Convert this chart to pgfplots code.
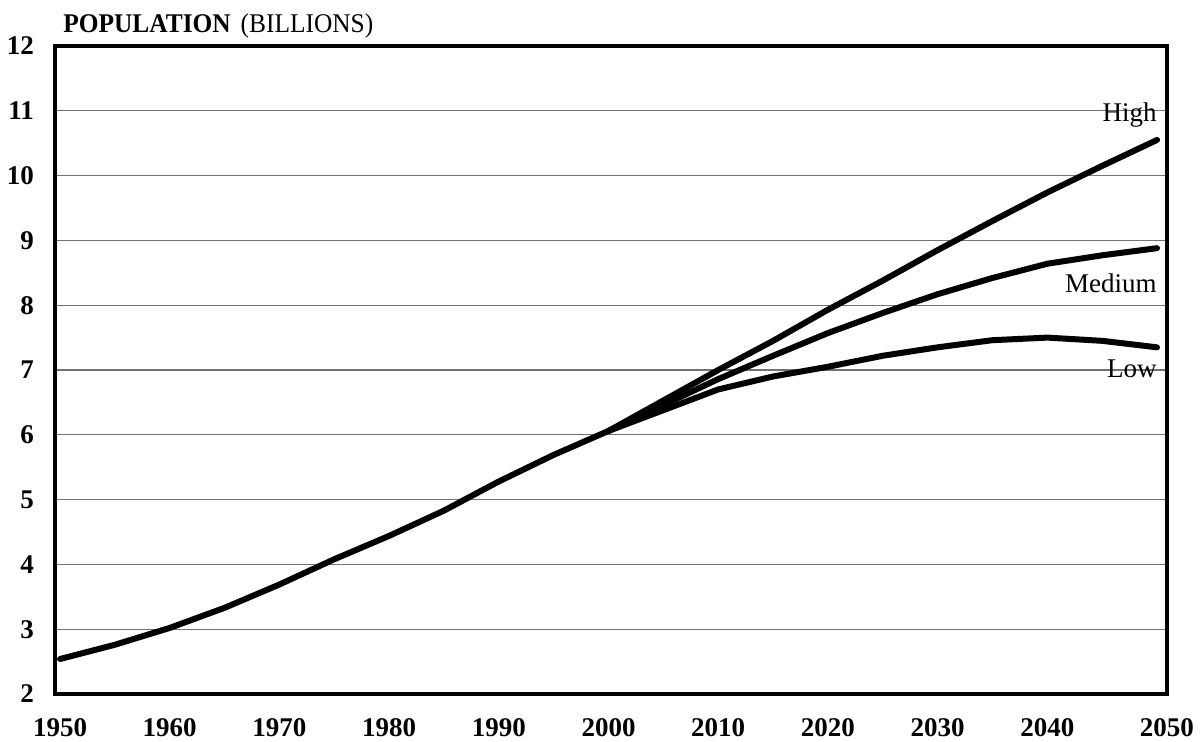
\documentclass[border=0pt]{standalone}
\usepackage{fontspec}
\setmainfont{Liberation Serif}
\newfontfamily\titlefont[FakeStretch=0.94]{Liberation Serif}
\usepackage{pgfplots}
\pgfplotsset{compat=1.18}
\begin{document}
\begin{tikzpicture}
\path[use as bounding box] (-27.5pt,-23.5pt) rectangle (573pt,347pt);
\begin{axis}[
  scale only axis,
  width=556pt, height=324pt,
  xmin=1949.54, xmax=2050.91,
  ymin=2, ymax=12,
  xtick={1950,1960,1970,1980,1990,2000,2010,2020,2030,2040,2050.9},
  xticklabels={1950,1960,1970,1980,1990,2000,2010,2020,2030,2040,2050},
  ytick={2,3,...,12},
  major tick length=0pt,
  axis line style={line width=1.7pt},
  ymajorgrids,
  grid style={black!55, line width=0.6pt},
  /pgf/number format/assume math mode=true,
  tick label style={font=\fontsize{13.5}{14}\selectfont\bfseries},
  yticklabel style={xshift=-7pt},
  xticklabel style={yshift=-11pt, inner sep=1pt},
  clip=false,
]
\addplot[black, line width=3pt, line join=round, line cap=round] coordinates {
(1950,2.54) (1955,2.76) (1960,3.02) (1965,3.33) (1970,3.69) (1975,4.08)
(1980,4.44) (1985,4.83) (1990,5.28) (1995,5.69) (2000,6.06)};
\addplot[black, line width=3pt, line join=round, line cap=round] coordinates {
(2000,6.06) (2005,6.53) (2010,7.00) (2015,7.45) (2020,7.93) (2025,8.38)
(2030,8.85) (2035,9.30) (2040,9.74) (2045,10.15) (2050,10.55)};
\addplot[black, line width=3pt, line join=round, line cap=round] coordinates {
(2000,6.06) (2005,6.46) (2010,6.86) (2015,7.22) (2020,7.57) (2025,7.88)
(2030,8.17) (2035,8.42) (2040,8.64) (2045,8.77) (2050,8.88)};
\addplot[black, line width=3pt, line join=round, line cap=round] coordinates {
(2000,6.06) (2005,6.38) (2010,6.70) (2015,6.90) (2020,7.05) (2025,7.22)
(2030,7.35) (2035,7.46) (2040,7.50) (2045,7.45) (2050,7.35)};
\node[anchor=base east, inner sep=0pt, font=\fontsize{13.5}{14}\selectfont] at (axis cs:2050,10.84) {High};
\node[anchor=base east, inner sep=0pt, font=\fontsize{13.5}{14}\selectfont] at (axis cs:2050,8.19) {Medium};
\node[anchor=base east, inner sep=0pt, font=\fontsize{13.5}{14}\selectfont] at (axis cs:2050,6.88) {Low};
\node[anchor=base west, inner sep=0pt, font=\titlefont\fontsize{13.5}{14}\selectfont] at ([xshift=4pt,yshift=7pt]rel axis cs:0,1) {\textbf{POPULATION}\hspace{5pt}(BILLIONS)};
\end{axis}
\end{tikzpicture}
\end{document}
